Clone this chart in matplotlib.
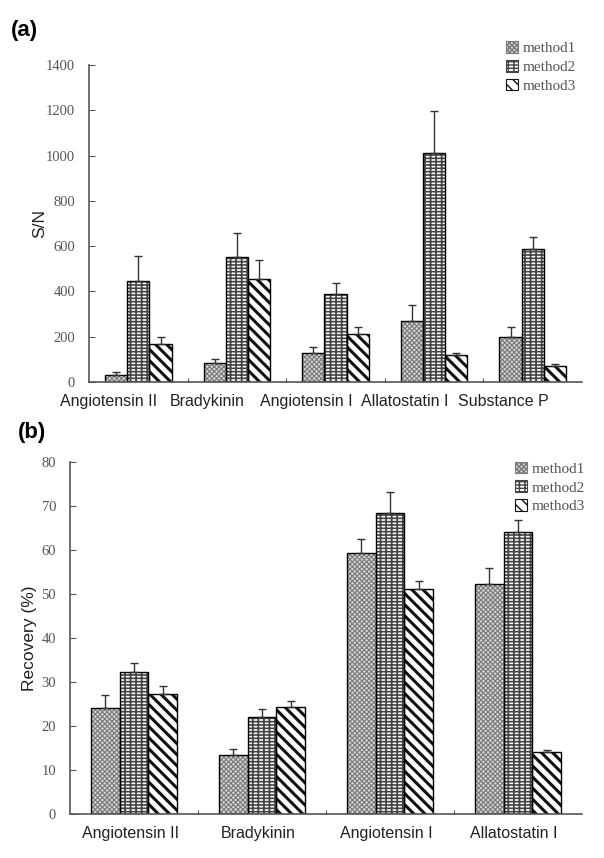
import numpy as np
import matplotlib
matplotlib.use("Agg")
import matplotlib.pyplot as plt
from matplotlib.patches import Patch

# panel (a) data: S/N
cats_a = ["Angiotensin II", "Bradykinin", "Angiotensin I", "Allatostatin I", "Substance P"]
sn_m1 = [30, 85, 127, 269, 200]
sn_m2 = [447, 551, 389, 1010, 586]
sn_m3 = [168, 453, 212, 118, 72]
sn_m1_err = [12, 15, 29, 71, 42]
sn_m2_err = [111, 106, 47, 188, 53]
sn_m3_err = [32, 86, 32, 11, 7]

# panel (b) data: recovery (%)
cats_b = ["Angiotensin II", "Bradykinin", "Angiotensin I", "Allatostatin I"]
rec_m1 = [24.2, 13.3, 59.3, 52.3]
rec_m2 = [32.3, 22.0, 68.5, 64.0]
rec_m3 = [27.3, 24.4, 51.2, 14.2]
rec_m1_err = [2.8, 1.4, 3.2, 3.5]
rec_m2_err = [2.1, 1.8, 4.6, 2.9]
rec_m3_err = [1.9, 1.3, 1.8, 0.3]

methods = ["method1", "method2", "method3"]
hatches = ["xxxxxxx", "-----|||", "\\\\\\"]
faces = ["#d4d4d4", "white", "white"]
hcolors = ["#7a7a7a", "#444444", "#111111"]
hwidths = [0.8, 1.2, 2.2]

serif = "Liberation Serif"
sans = "Liberation Sans"
grey = "#555555"


def draw_panel(ax, cats, vals, errs, ymax, ystep, ylabel, bw, label_shift):
    x = np.arange(len(cats)) + 0.5
    for k in range(3):
        pos = x + (k - 1) * bw
        bars = ax.bar(pos, vals[k], bw, color=faces[k], edgecolor=hcolors[k], linewidth=0,
                      hatch=hatches[k], zorder=2)
        for b in bars:
            try:
                b.set_hatch_linewidth(hwidths[k])
            except AttributeError:
                pass
        # outline drawn on top of the hatch
        ax.bar(pos, vals[k], bw, fill=False, edgecolor="black", linewidth=1, zorder=2.5)
        ax.errorbar(pos, vals[k], yerr=[np.zeros(len(cats)), errs[k]], fmt="none",
                    ecolor="#333333", elinewidth=1, capsize=3, capthick=1, zorder=3)
    ax.set_xlim(0, len(cats))
    ax.set_ylim(0, ymax)
    ax.set_yticks(np.arange(0, ymax + 1, ystep))
    ax.set_xticks(np.arange(1, len(cats)))
    ax.set_xticklabels([])
    ax.set_xticks(x + label_shift, minor=True)
    ax.set_xticklabels(cats, minor=True, fontfamily=sans, fontsize=11.5, color="#222222")
    ax.tick_params(axis="x", which="minor", length=0, pad=9)
    ax.tick_params(axis="x", which="major", direction="in", length=3, color=grey)
    ax.tick_params(axis="y", direction="in", length=4, color=grey, labelcolor=grey, pad=10)
    for lab in ax.get_yticklabels():
        lab.set_fontfamily(serif)
        lab.set_fontsize(10.5)
    for s in ["top", "right"]:
        ax.spines[s].set_visible(False)
    for s in ["left", "bottom"]:
        ax.spines[s].set_color(grey)
        ax.spines[s].set_linewidth(1.2)
    ax.set_ylabel(ylabel, fontfamily=sans, fontsize=12.5, color="#222222")


def add_legend(ax, anchor):
    handles = [Patch(facecolor=faces[k], edgecolor=hcolors[k], hatch=hatches[k], linewidth=0.8)
               for k in range(3)]
    leg = ax.legend(handles, methods, loc="upper left", bbox_to_anchor=anchor,
                    bbox_transform=fig.transFigure, frameon=False, handlelength=0.8,
                    handleheight=0.8, handletextpad=0.3, labelspacing=0.3,
                    prop={"family": serif, "size": 11})
    for t in leg.get_texts():
        t.set_color(grey)
    return leg


fig = plt.figure(figsize=(6.04, 8.58), dpi=100)

ax1 = fig.add_axes([0.1474, 0.5548, 0.8162, 0.3695])
draw_panel(ax1, cats_a, [sn_m1, sn_m2, sn_m3], [sn_m1_err, sn_m2_err, sn_m3_err],
           1400, 200, "S/N", 0.225, -0.3)
ax1.yaxis.set_label_coords(-0.085, 0.5)
add_legend(ax1, (0.815, 0.968))

ax2 = fig.add_axes([0.1159, 0.0513, 0.8477, 0.4102])
draw_panel(ax2, cats_b, [rec_m1, rec_m2, rec_m3], [rec_m1_err, rec_m2_err, rec_m3_err],
           80, 10, "Recovery (%)", 0.225, -0.03)
ax2.yaxis.set_label_coords(-0.065, 0.5)
add_legend(ax2, (0.83, 0.478))

fig.text(0.018, 0.958, "(a)", fontfamily=sans, fontweight="bold", fontsize=16)
fig.text(0.03, 0.49, "(b)", fontfamily=sans, fontweight="bold", fontsize=16)

fig.savefig("out.png", dpi=100, facecolor="white")
